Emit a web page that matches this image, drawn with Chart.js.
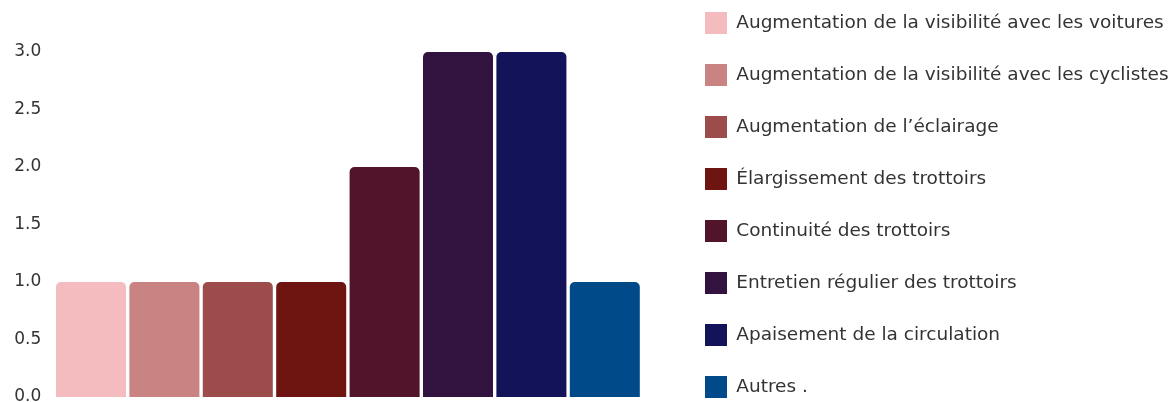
<!DOCTYPE html>
<html>
<head>
<meta charset="utf-8">
<script src="https://cdn.jsdelivr.net/npm/chart.js@4"></script>
<style>
  html, body { margin: 0; padding: 0; background: #ffffff; overflow: hidden; width: 1175px; height: 402px; }
  #wrap { position: absolute; left: 0; top: -18px; width: 1175px; height: 470px; }
</style>
</head>
<body>
<div id="wrap"><canvas id="c" width="1175" height="470"></canvas></div>
<script>
const categories = [
  "Augmentation de la visibilité avec les voitures",
  "Augmentation de la visibilité avec les cyclistes",
  "Augmentation de l’éclairage",
  "Élargissement des trottoirs",
  "Continuité des trottoirs",
  "Entretien régulier des trottoirs",
  "Apaisement de la circulation",
  "Autres ."
];
const values = [1, 1, 1, 1, 2, 3, 3, 1];
const colors = ["#F4BCBE", "#C88382", "#9C4D4B", "#6E1411", "#52142A", "#32133F", "#13135A", "#004A8A"];
const yTicks = [0, 0.5, 1, 1.5, 2, 2.5, 3];

const FONT = "'DejaVu Sans', sans-serif";
const TEXT = "#333333";

const datasets = categories.map((name, i) => ({
  label: name,
  data: [values[i]],
  backgroundColor: colors[i],
  borderWidth: 0,
  borderRadius: 5,
  borderSkipped: 'start',
  categoryPercentage: 1.0,
  barPercentage: 0.954
}));

new Chart(document.getElementById('c'), {
  type: 'bar',
  data: { labels: [''], datasets },
  options: {
    responsive: false,
    animation: false,
    layout: { padding: { left: 0, right: 0, top: 0, bottom: 0 } },
    plugins: {
      tooltip: { enabled: false },
      title: {
        display: true, text: ' ', fullSize: false,
        padding: { top: 0, bottom: 60 },
        font: { size: 10, lineHeight: 1 }
      },
      legend: {
        display: true,
        position: 'right',
        align: 'start',
        maxWidth: 500,
        labels: {
          boxWidth: 22,
          boxHeight: 22,
          padding: 30,
          color: TEXT,
          font: { family: FONT, size: 18.5 }
        }
      }
    },
    scales: {
      x: {
        display: true,
        grid: { display: false, drawTicks: false },
        border: { display: false },
        ticks: { display: false },
        afterFit(s) { s.height = 55; }
      },
      y: {
        min: 0,
        max: 3,
        grid: { display: false, drawTicks: false },
        border: { display: false },
        afterBuildTicks(s) { s.ticks = yTicks.map(v => ({ value: v })); },
        ticks: {
          padding: 13,
          color: TEXT,
          font: { family: FONT, size: 17 },
          callback: v => Number(v).toFixed(1)
        },
        afterFit(s) { s.width = 54.3; }
      },
      y2: {
        position: 'right',
        display: true,
        grid: { display: false, drawTicks: false },
        border: { display: false },
        ticks: { display: false },
        afterFit(s) { s.width = 33.5; }
      }
    }
  }
});
</script>
</body>
</html>
